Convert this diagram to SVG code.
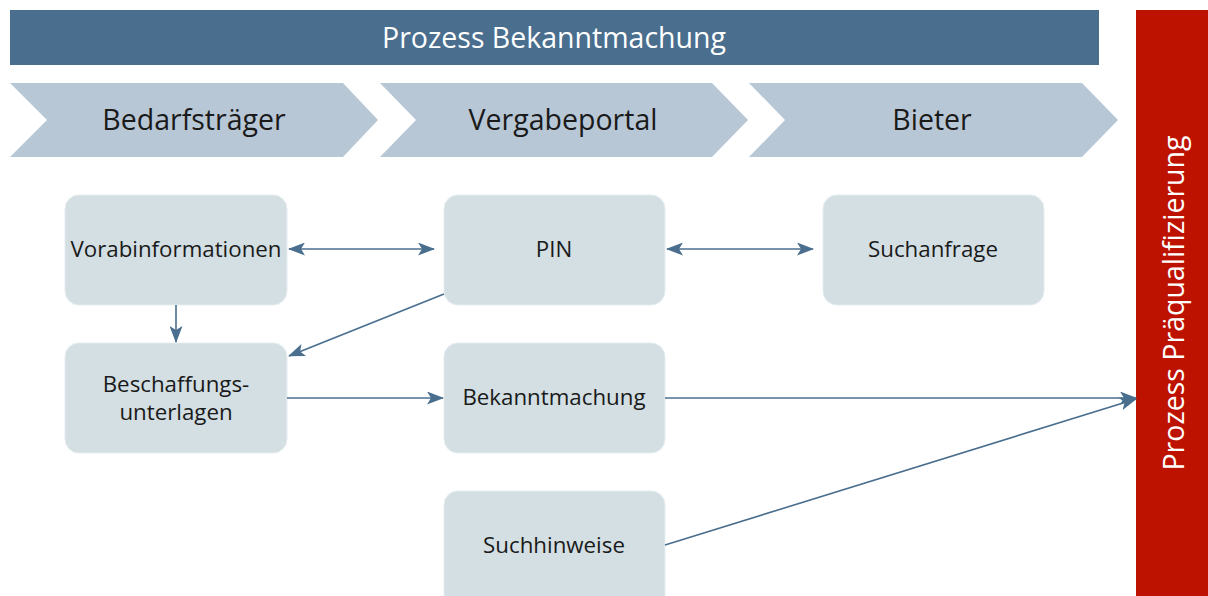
<svg xmlns="http://www.w3.org/2000/svg" width="1208" height="596" viewBox="0 0 1208 596">
  <style>
    .lbl { font-family: "Open Sans", "Liberation Sans", sans-serif; fill: #1a1a1a; text-anchor: middle; dominant-baseline: central; }
    .node rect { fill: #d3dfe3; stroke: #e6edf0; stroke-width: 1; }
    .node text { font-size: 22.3px; }
    .phase path { fill: #b8c7d6; }
    .phase text { font-size: 28.5px; }
    .conn { stroke: #4a6e8e; stroke-width: 1.6; fill: none; }
  </style>
  <defs>
    <marker id="arr" viewBox="0 0 17 13" refX="16" refY="6.5" markerWidth="17" markerHeight="13" markerUnits="userSpaceOnUse" orient="auto-start-reverse">
      <path d="M0,0 L17,6.5 L0,13 L4,6.5 Z" fill="#4a6e8e"/>
    </marker>
  </defs>

  <!-- header bar -->
  <g id="header">
    <rect x="10" y="10" width="1089" height="55" fill="#4a6e8e"/>
    <text class="lbl" x="554" y="37" font-size="28.5" style="fill:#ffffff">Prozess Bekanntmachung</text>
  </g>

  <!-- side bar -->
  <g id="sidebar">
    <rect x="1136" y="10" width="72" height="586" fill="#be1200"/>
    <text class="lbl" transform="translate(1173,303) rotate(-90)" font-size="28.5" style="fill:#ffffff">Prozess Präqualifizierung</text>
  </g>

  <!-- phase chevrons -->
  <g id="phase-bedarfstraeger" class="phase">
    <path d="M10,83 L343,83 L378,120 L343,157 L10,157 L47,120 Z"/>
    <text class="lbl" x="194" y="119">Bedarfsträger</text>
  </g>
  <g id="phase-vergabeportal" class="phase">
    <path d="M380,83 L712,83 L748,120 L712,157 L380,157 L416,120 Z"/>
    <text class="lbl" x="563" y="119">Vergabeportal</text>
  </g>
  <g id="phase-bieter" class="phase">
    <path d="M749,83 L1082,83 L1118,120 L1082,157 L749,157 L785,120 Z"/>
    <text class="lbl" x="932" y="119">Bieter</text>
  </g>

  <!-- nodes -->
  <g id="vorabinformationen" class="node">
    <rect x="65" y="195" width="222" height="110" rx="14"/>
    <text class="lbl" x="176" y="248">Vorabinformationen</text>
  </g>
  <g id="beschaffungsunterlagen" class="node">
    <rect x="65" y="343" width="222" height="110" rx="14"/>
    <text class="lbl" x="176" y="383">Beschaffungs-</text>
    <text class="lbl" x="176" y="411">unterlagen</text>
  </g>
  <g id="pin" class="node">
    <rect x="444" y="195" width="221" height="110" rx="14"/>
    <text class="lbl" x="554" y="248">PIN</text>
  </g>
  <g id="suchanfrage" class="node">
    <rect x="823" y="195" width="221" height="110" rx="14"/>
    <text class="lbl" x="933" y="248">Suchanfrage</text>
  </g>
  <g id="bekanntmachung" class="node">
    <rect x="444" y="343" width="221" height="110" rx="14"/>
    <text class="lbl" x="554" y="396">Bekanntmachung</text>
  </g>
  <g id="suchhinweise" class="node">
    <rect x="444" y="491" width="221" height="120" rx="14"/>
    <text class="lbl" x="554" y="544">Suchhinweise</text>
  </g>

  <!-- connectors -->
  <g id="connectors" class="conn">
    <line x1="289" y1="249" x2="434" y2="249" marker-start="url(#arr)" marker-end="url(#arr)"/>
    <line x1="667" y1="249" x2="813" y2="249" marker-start="url(#arr)" marker-end="url(#arr)"/>
    <line x1="176" y1="305" x2="176" y2="342" marker-end="url(#arr)"/>
    <line x1="444" y1="294" x2="289" y2="356" marker-end="url(#arr)"/>
    <line x1="287" y1="398" x2="443" y2="398" marker-end="url(#arr)"/>
    <line x1="665" y1="398" x2="1136" y2="398" marker-end="url(#arr)"/>
    <line x1="665" y1="545" x2="1136" y2="399" marker-end="url(#arr)"/>
  </g>
</svg>
